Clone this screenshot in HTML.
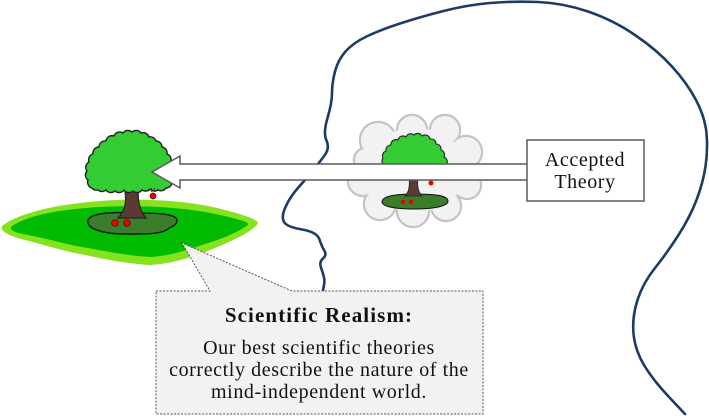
<!DOCTYPE html>
<html><head><meta charset="utf-8"><style>
html,body{margin:0;padding:0;background:#fff;}
svg{display:block;}
</style></head><body>
<svg width="709" height="416" viewBox="0 0 709 416" xmlns="http://www.w3.org/2000/svg">
<!-- Head outline -->
<path d="M685,414 L669,397 Q653,380 644,365 Q635,350 633.5,333.5 Q632,317 637.5,300 Q643,283 655,268 Q667,253 678.5,235 Q690,217 696.5,200 Q703,183 705.5,166.5 Q708,150 706.5,133.5 Q705,117 696,100 Q687,83 672,66.5 Q657,50 635,35 Q613,20 588,11.5 Q563,3 538,2 Q513,1 490,3 Q467,5 443.5,11 Q420,17 400,23.5 Q380,30 366.5,36.5 Q353,43 345.5,51.5 Q338,60 335,71.5 Q332,83 332,93 Q332,103 327.5,118 Q323,133 326.5,140.5 Q330,148 324.5,155.5 Q319,163 312,171.5 Q305,180 297.5,188.5 Q290,197 285.5,207 Q281,217 284,222 Q287,227 302,229.5 Q317,232 319.5,239.5 Q322,247 324.5,251 Q327,255 323,258.5 Q319,262 321,267.5 Q323,273 324,277.5 Q325,282 323.5,287.5 L322,296" fill="none" stroke="#1d3b66" stroke-width="2.6" stroke-linejoin="round" stroke-linecap="round"/>

<!-- Island -->
<path d="M2,226 C20,212 60,204 100,201 C140,198 190,200 225,210 C245,215 258,220 258,223 C255,230 235,240 210,250 C190,258 170,264 150,265 C120,263 100,258 80,254 C60,250 45,245 25,240 C10,236 0,232 2,226 Z" fill="#84e21f"/>
<path d="M12,226 C30,214 65,209 100,207 C140,205 185,207 220,215 C238,219 250,222 248,225 C240,231 225,238 205,244 C185,251 168,256 150,257 C122,255 100,250 82,247 C60,243 45,238 28,235 C15,233 8,230 12,226 Z" fill="#00bb00"/>
<path d="M88,220 C92,212 115,212 135,213 C160,213 178,214 177,221 C176,226 172,226 168,229 C160,235 140,234 120,234 C100,233 86,228 88,220 Z" fill="#3a7d2b" stroke="#111" stroke-width="1.3"/>
<!-- Trunk -->
<path d="M124,186 C127,200 126,210 118,218 L146,218 C139,210 137,198 139,186 Z" fill="#5b3a33" stroke="#222" stroke-width="1.2"/>
<!-- Foliage -->
<path d="M92,188 A6,6 0 0 1 88,180 A6,6 0 0 1 87,171 A6,6 0 0 1 89,162 A6,6 0 0 1 93,154 A6,6 0 0 1 99,147 A6,6 0 0 1 106,141 A6,6 0 0 1 114,136 A6,6 0 0 1 123,133 A6,6 0 0 1 132,132 A6,6 0 0 1 141,133 A6,6 0 0 1 149,137 A6,6 0 0 1 156,141 A6,6 0 0 1 162,147 A6,6 0 0 1 167,154 A6,6 0 0 1 171,161 A6,6 0 0 1 175,168 A6,6 0 0 1 174,176 A6,6 0 0 1 172,183 A6,6 0 0 1 166,188 A6,6 0 0 1 158,190 A6,6 0 0 1 150,189 A6,6 0 0 1 142,190 A6,6 0 0 1 133,191 A6,6 0 0 1 124,190 A6,6 0 0 1 115,191 A6,6 0 0 1 106,190 A6,6 0 0 1 98,190 A6,6 0 0 1 92,188 Z" fill="#33cc33" stroke="#222" stroke-width="1.4" stroke-linejoin="round"/>
<!-- Apples -->
<circle cx="115" cy="223" r="3.3" fill="#e00" stroke="#600" stroke-width="0.7"/>
<circle cx="127" cy="223" r="3.3" fill="#e00" stroke="#600" stroke-width="0.7"/>
<circle cx="153" cy="196" r="3" fill="#e00" stroke="#600" stroke-width="0.7"/>
<path d="M151.5,188 V192 M154.5,188 V192" stroke="#333" stroke-width="0.8"/>

<!-- Cloud -->
<g stroke="#c4c4c4" stroke-width="2.4" fill="#f2f2f2">
<circle cx="378" cy="140" r="18"/><circle cx="412" cy="130" r="15"/><circle cx="445" cy="130" r="15"/><circle cx="466" cy="152" r="16"/><circle cx="467" cy="185" r="14"/><circle cx="446" cy="206" r="15"/><circle cx="413" cy="211" r="16"/><circle cx="380" cy="204" r="16"/><circle cx="363" cy="181" r="15"/><circle cx="366" cy="160" r="12"/>
</g>
<g fill="#f2f2f2">
<circle cx="378" cy="140" r="17"/><circle cx="412" cy="130" r="14"/><circle cx="445" cy="130" r="14"/><circle cx="466" cy="152" r="15"/><circle cx="467" cy="185" r="13"/><circle cx="446" cy="206" r="14"/><circle cx="413" cy="211" r="15"/><circle cx="380" cy="204" r="15"/><circle cx="363" cy="181" r="14"/><circle cx="366" cy="160" r="11"/>
<ellipse cx="415" cy="170" rx="52" ry="42"/>
</g>
<!-- Cloud tree -->
<path d="M382,201.5 C383,195 400,194 415,194 C432,194 448,195 448,201 C448,206 435,209 415,209 C397,209 382,207 382,201.5 Z" fill="#3a7d2b" stroke="#111" stroke-width="1"/>
<path d="M409,176 C410,186 409,192 405,196 L422,196 C418,192 417,186 418,176 Z" fill="#5b3a33" stroke="#222" stroke-width="0.8"/>
<path d="M384,165 A5,5 0 0 1 383,158 A5,5 0 0 1 386,151 A5,5 0 0 1 391,145 A5,5 0 0 1 398,140 A5,5 0 0 1 406,137 A5,5 0 0 1 414,135 A5,5 0 0 1 422,136 A5,5 0 0 1 430,139 A5,5 0 0 1 436,144 A5,5 0 0 1 441,150 A5,5 0 0 1 444,157 A5,5 0 0 1 446,165 L446,172 L384,172 Z" fill="#33cc33" stroke="#222" stroke-width="1.1" stroke-linejoin="round"/>
<circle cx="403" cy="202" r="2.3" fill="#e00"/>
<circle cx="411" cy="202" r="2.3" fill="#e00"/>
<circle cx="431" cy="183" r="2.5" fill="#e00"/>

<!-- Arrow -->
<path d="M527,164 L180,164 L180,156 L152,172 L180,188 L180,180 L527,180" fill="#fff" stroke="#5a5a5a" stroke-width="1.5" stroke-linejoin="miter"/>

<!-- Accepted Theory box -->
<rect x="527" y="140" width="117" height="61" fill="#fff" stroke="#5a5a5a" stroke-width="1.5"/>
<g font-family="'Liberation Serif', serif" font-size="20" fill="#111" text-anchor="middle" letter-spacing="0.6">
<text x="585" y="166">Accepted</text>
<text x="585" y="188">Theory</text>
</g>

<!-- Callout -->
<path d="M156,291 L210,291 L182,243 L292,291 L483,291 L483,414 L156,414 Z" fill="#f2f2f2" stroke="#555" stroke-width="1" stroke-dasharray="2,1.5"/>
<g font-family="'Liberation Serif', serif" fill="#111" text-anchor="middle">
<text x="319" y="322" font-size="21" font-weight="bold" letter-spacing="1.1">Scientific Realism:</text>
<text x="319" y="354" font-size="20" letter-spacing="0.6">Our best scientific theories</text>
<text x="319" y="376" font-size="20" letter-spacing="0.6">correctly describe the nature of the</text>
<text x="319" y="398" font-size="20" letter-spacing="0.6">mind-independent world.</text>
</g>
</svg>
</body></html>
